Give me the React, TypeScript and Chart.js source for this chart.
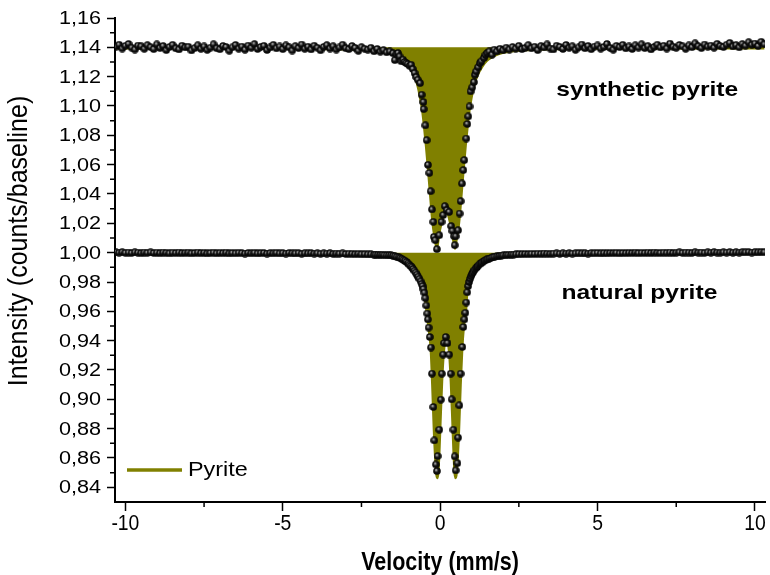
import React, { useEffect, useRef } from "react";
import { Chart, registerables } from "chart.js";

Chart.register(...registerables);

// ---------- axis ticks ----------
const X_TICKS = [-10, -5, 0, 5, 10];
const X_MINOR = [-7.5, -2.5, 2.5, 7.5];
const Y_TICKS = [0.84, 0.86, 0.88, 0.9, 0.92, 0.94, 0.96, 0.98, 1.0, 1.02, 1.04, 1.06, 1.08, 1.1, 1.12, 1.14, 1.16];
const Y_MINOR = [0.85, 0.87, 0.89, 0.91, 0.93, 0.95, 0.97, 0.99, 1.01, 1.03, 1.05, 1.07, 1.09, 1.11, 1.13, 1.15];

const X_TITLE = "Velocity (mm/s)";
const Y_TITLE = "Intensity (counts/baseline)";
const SERIES_NAME = "Pyrite";
const LABEL_SYNTHETIC = "synthetic pyrite";
const LABEL_NATURAL = "natural pyrite";

// ---------- measured spectra: [velocity mm/s, relative intensity] ----------
const SYNTHETIC: [number, number][] = [
  [-10.3, 1.1405], [-10.2, 1.1418], [-10.1, 1.1392], [-10, 1.141], [-9.9, 1.1423], [-9.8, 1.1398], [-9.7, 1.1385], [-9.6, 1.1412], [-9.5, 1.1407], [-9.4, 1.139],
  [-9.3, 1.1415], [-9.2, 1.1401], [-9.1, 1.1388], [-9, 1.142], [-8.9, 1.1396], [-8.8, 1.1409], [-8.7, 1.1381], [-8.6, 1.1402], [-8.5, 1.1417], [-8.4, 1.1393],
  [-8.3, 1.1386], [-8.2, 1.1411], [-8.1, 1.1399], [-8, 1.1404], [-7.9, 1.1379], [-7.8, 1.1395], [-7.7, 1.1414], [-7.6, 1.139], [-7.5, 1.1406], [-7.4, 1.1383],
  [-7.3, 1.1398], [-7.2, 1.1421], [-7.1, 1.1394], [-7, 1.1387], [-6.9, 1.1409], [-6.8, 1.1402], [-6.7, 1.1377], [-6.6, 1.14], [-6.5, 1.1416], [-6.4, 1.1391],
  [-6.3, 1.1405], [-6.2, 1.1384], [-6.1, 1.1412], [-6, 1.1397], [-5.9, 1.1422], [-5.8, 1.1389], [-5.7, 1.1403], [-5.6, 1.141], [-5.5, 1.1382], [-5.4, 1.1399],
  [-5.3, 1.1417], [-5.2, 1.1393], [-5.1, 1.1406], [-5, 1.1388], [-4.9, 1.1413], [-4.8, 1.14], [-4.7, 1.1378], [-4.6, 1.1408], [-4.5, 1.1395], [-4.4, 1.1419],
  [-4.3, 1.139], [-4.2, 1.1404], [-4.1, 1.1386], [-4, 1.1411], [-3.9, 1.1397], [-3.8, 1.138], [-3.7, 1.1403], [-3.6, 1.1415], [-3.5, 1.1392], [-3.4, 1.1407],
  [-3.3, 1.1385], [-3.2, 1.1399], [-3.1, 1.1418], [-3, 1.1394], [-2.9, 1.1388], [-2.8, 1.1409], [-2.7, 1.1396], [-2.6, 1.1376], [-2.5, 1.1401], [-2.4, 1.139],
  [-2.3, 1.1384], [-2.2, 1.1397], [-2.1, 1.1373], [-2, 1.1389], [-1.9, 1.137], [-1.8, 1.1381], [-1.7, 1.1366], [-1.6, 1.1372], [-1.5, 1.136],
  [-1.44, 1.1313], [-1.39, 1.1352], [-1.34, 1.1361], [-1.29, 1.1338], [-1.236, 1.1305], [-1.18, 1.1316], [-1.13, 1.13], [-1.079, 1.1293],
  [-1.03, 1.1286], [-0.97, 1.1274], [-0.921, 1.1281], [-0.87, 1.1252], [-0.814, 1.1225], [-0.76, 1.1198], [-0.711, 1.1179], [-0.638, 1.1156],
  [-0.585, 1.1077], [-0.531, 1.1027], [-0.522, 1.0979], [-0.469, 1.0868], [-0.428, 1.0767], [-0.387, 1.0599], [-0.343, 1.0544], [-0.302, 1.0419],
  [-0.261, 1.0295], [-0.217, 1.021], [-0.198, 1.0108], [-0.154, 1.0085], [-0.104, 1.0024], [-0.028, 1.0119], [0.044, 1.021], [0.097, 1.0256],
  [0.148, 1.0317], [0.211, 1.029], [0.286, 1.0278], [0.349, 1.0181], [0.39, 1.0149], [0.443, 1.0112], [0.462, 1.0051], [0.494, 1.0112],
  [0.569, 1.0153], [0.619, 1.0267], [0.651, 1.0351], [0.695, 1.0472], [0.736, 1.0563], [0.767, 1.0631], [0.83, 1.0778], [0.862, 1.0877],
  [0.893, 1.0929], [0.934, 1.0997], [0.965, 1.11], [1.019, 1.1127], [1.072, 1.1163], [1.104, 1.1213], [1.145, 1.1236], [1.208, 1.1264],
  [1.26, 1.1292], [1.311, 1.1305], [1.387, 1.1327], [1.44, 1.1348], [1.491, 1.1361], [1.56, 1.1372], [1.648, 1.135], [1.72, 1.1384],
  [1.8, 1.1372], [1.9, 1.139], [2, 1.138], [2.1, 1.1398], [2.2, 1.1385], [2.3, 1.1402], [2.4, 1.1391], [2.5, 1.141], [2.6, 1.1388], [2.7, 1.1396],
  [2.8, 1.1415], [2.9, 1.1393], [3, 1.1404], [3.1, 1.1381], [3.2, 1.1408], [3.3, 1.1399], [3.4, 1.142], [3.5, 1.1392], [3.6, 1.1386], [3.7, 1.1411],
  [3.8, 1.1403], [3.9, 1.1389], [4, 1.1416], [4.1, 1.1397], [4.2, 1.1407], [4.3, 1.1383], [4.4, 1.14], [4.5, 1.1419], [4.6, 1.1394], [4.7, 1.1409],
  [4.8, 1.1387], [4.9, 1.1405], [5, 1.1413], [5.1, 1.1391], [5.2, 1.1402], [5.3, 1.1423], [5.4, 1.1396], [5.5, 1.1384], [5.6, 1.141], [5.7, 1.1401],
  [5.8, 1.1417], [5.9, 1.1393], [6, 1.1406], [6.1, 1.1389], [6.2, 1.1414], [6.3, 1.1398], [6.4, 1.1421], [6.5, 1.1395], [6.6, 1.1408], [6.7, 1.1386],
  [6.8, 1.1403], [6.9, 1.1418], [7, 1.1399], [7.1, 1.1411], [7.2, 1.1392], [7.3, 1.1425], [7.4, 1.1404], [7.5, 1.1397], [7.6, 1.1416], [7.7, 1.1407],
  [7.8, 1.139], [7.9, 1.1413], [8, 1.1401], [8.1, 1.1427], [8.2, 1.1408], [8.3, 1.1395], [8.4, 1.1419], [8.5, 1.1405], [8.6, 1.1412], [8.7, 1.1398],
  [8.8, 1.1424], [8.9, 1.1409], [9, 1.1402], [9.1, 1.1418], [9.2, 1.143], [9.3, 1.1406], [9.4, 1.1415], [9.5, 1.14], [9.6, 1.1422], [9.7, 1.1411],
  [9.8, 1.1435], [9.9, 1.1417], [10, 1.1426], [10.1, 1.1409], [10.2, 1.1438], [10.3, 1.142],
];

const NATURAL: [number, number][] = [
  [-10.3, 1.0002], [-10.2, 1.0], [-10.1, 1.0003], [-10, 0.9999], [-9.9, 1.0001], [-9.8, 0.9998], [-9.7, 1.0002], [-9.6, 1.0], [-9.5, 0.9997], [-9.4, 1.0001],
  [-9.3, 0.9999], [-9.2, 1.0002], [-9.1, 0.9998], [-9, 1.0], [-8.9, 0.9997], [-8.8, 1.0001], [-8.7, 0.9999], [-8.6, 0.9996], [-8.5, 1.0], [-8.4, 0.9998],
  [-8.3, 1.0001], [-8.2, 0.9997], [-8.1, 0.9999], [-8, 1.0], [-7.9, 0.9996], [-7.8, 0.9998], [-7.7, 1.0001], [-7.6, 0.9997], [-7.5, 0.9999], [-7.4, 0.9995],
  [-7.3, 0.9998], [-7.2, 1.0], [-7.1, 0.9996], [-7, 0.9999], [-6.9, 0.9997], [-6.8, 1.0], [-6.7, 0.9995], [-6.6, 0.9998], [-6.5, 0.9996], [-6.4, 0.9999],
  [-6.3, 0.9997], [-6.2, 0.9994], [-6.1, 0.9998], [-6, 0.9996], [-5.9, 0.9999], [-5.8, 0.9995], [-5.7, 0.9997], [-5.6, 0.9998], [-5.5, 0.9994], [-5.4, 0.9997],
  [-5.3, 0.9996], [-5.2, 0.9999], [-5.1, 0.9995], [-5, 0.9997], [-4.9, 0.9994], [-4.8, 0.9998], [-4.7, 0.9996], [-4.6, 0.9995], [-4.5, 0.9997], [-4.4, 0.9993],
  [-4.3, 0.9996], [-4.2, 0.9995], [-4.1, 0.9997], [-4, 0.9994], [-3.9, 0.9996], [-3.8, 0.9993], [-3.7, 0.9995], [-3.6, 0.9994], [-3.5, 0.9996], [-3.4, 0.9992],
  [-3.3, 0.9994], [-3.2, 0.9993], [-3.1, 0.9995], [-3, 0.9991], [-2.9, 0.9993], [-2.8, 0.9992], [-2.7, 0.999], [-2.6, 0.9992], [-2.5, 0.9989], [-2.4, 0.999],
  [-2.3, 0.9988], [-2.2, 0.9989], [-2.1, 0.9987],
  [-2.05, 0.9987], [-1.98, 0.9986], [-1.91, 0.9985], [-1.84, 0.9985], [-1.77, 0.9984], [-1.7, 0.9983], [-1.63, 0.9983], [-1.56, 0.9982],
  [-1.5, 0.9979], [-1.44, 0.9976], [-1.38, 0.9972], [-1.32, 0.9968], [-1.27, 0.9963], [-1.22, 0.9958], [-1.17, 0.9951], [-1.12, 0.9945],
  [-1.07, 0.9937], [-1.02, 0.9927], [-0.98, 0.9918], [-0.94, 0.9909], [-0.9, 0.99], [-0.86, 0.9889], [-0.82, 0.9877], [-0.78, 0.9864],
  [-0.74, 0.985], [-0.7, 0.9836], [-0.66, 0.9822], [-0.62, 0.9804], [-0.59, 0.9787], [-0.56, 0.9772], [-0.53, 0.9752], [-0.5, 0.9727],
  [-0.47, 0.969], [-0.44, 0.964], [-0.41, 0.9585], [-0.39, 0.9545],
  [-0.365, 0.9489], [-0.33, 0.9425], [-0.292, 0.9353], [-0.261, 0.9175], [-0.217, 0.8948], [-0.186, 0.872], [-0.135, 0.8556], [-0.104, 0.8511],
  [-0.082, 0.8613], [-0.028, 0.8793], [0.022, 0.8998], [0.053, 0.9175], [0.097, 0.9305], [0.129, 0.9384], [0.179, 0.9425], [0.233, 0.9384],
  [0.286, 0.9305], [0.336, 0.9175], [0.368, 0.9], [0.421, 0.8793], [0.462, 0.8611], [0.494, 0.8516], [0.547, 0.8565], [0.569, 0.8739],
  [0.61, 0.8959], [0.651, 0.9175], [0.704, 0.9357], [0.736, 0.9493],
  [0.77, 0.9545], [0.8, 0.959], [0.83, 0.966], [0.86, 0.973], [0.89, 0.9772], [0.92, 0.98], [0.95, 0.9822], [0.98, 0.984],
  [1.01, 0.9855], [1.05, 0.9868], [1.09, 0.9882], [1.13, 0.9893], [1.17, 0.9902], [1.21, 0.9912], [1.25, 0.9921], [1.29, 0.9927],
  [1.34, 0.9934], [1.39, 0.9942], [1.44, 0.9948], [1.49, 0.9954], [1.55, 0.9959], [1.61, 0.9964], [1.67, 0.9968], [1.73, 0.9972],
  [1.8, 0.9975], [1.87, 0.9978], [1.94, 0.998], [2.01, 0.9982], [2.09, 0.9983], [2.17, 0.9985], [2.25, 0.9986], [2.33, 0.9987],
  [2.41, 0.9989], [2.5, 0.999],
  [2.6, 0.999], [2.7, 0.9991], [2.8, 0.999], [2.9, 0.9992], [3, 0.9991], [3.1, 0.9993], [3.2, 0.9992], [3.3, 0.9994], [3.4, 0.9993], [3.5, 0.9992],
  [3.6, 0.9994], [3.7, 0.9995], [3.8, 0.9993], [3.9, 0.9995], [4, 0.9994], [4.1, 0.9996], [4.2, 0.9994], [4.3, 0.9995], [4.4, 0.9997], [4.5, 0.9995],
  [4.6, 0.9996], [4.7, 0.9994], [4.8, 0.9997], [4.9, 0.9996], [5, 0.9998], [5.1, 0.9995], [5.2, 0.9997], [5.3, 0.9996], [5.4, 0.9998], [5.5, 0.9997],
  [5.6, 0.9999], [5.7, 0.9996], [5.8, 0.9998], [5.9, 0.9997], [6, 0.9999], [6.1, 0.9998], [6.2, 1.0], [6.3, 0.9997], [6.4, 0.9999], [6.5, 0.9998],
  [6.6, 1.0], [6.7, 0.9998], [6.8, 1.0001], [6.9, 0.9999], [7, 0.9998], [7.1, 1.0], [7.2, 0.9999], [7.3, 1.0001], [7.4, 0.9998], [7.5, 1.0],
  [7.6, 1.0002], [7.7, 0.9999], [7.8, 1.0001], [7.9, 1.0], [8, 0.9999], [8.1, 1.0002], [8.2, 1.0], [8.3, 1.0001], [8.4, 0.9999], [8.5, 1.0002],
  [8.6, 1.0], [8.7, 1.0003], [8.8, 1.0001], [8.9, 1.0], [9, 1.0002], [9.1, 1.0001], [9.2, 1.0003], [9.3, 1.0], [9.4, 1.0002], [9.5, 1.0001],
  [9.6, 1.0003], [9.7, 1.0002], [9.8, 1.0004], [9.9, 1.0001], [10, 1.0003], [10.1, 1.0002], [10.2, 1.0004], [10.3, 1.0003],
];

// ---------- fitted "Pyrite" doublets ----------
const SYNTHETIC_FIT: [number, number][] = [
  [-10.3, 1.1396], [-6, 1.1395], [-4, 1.1393], [-2.8, 1.1388], [-2.1, 1.138], [-1.6, 1.1365], [-1.32, 1.134], [-1.12, 1.131],
  [-0.97, 1.127], [-0.82, 1.121], [-0.72, 1.115], [-0.62, 1.105], [-0.56, 1.097], [-0.5, 1.086], [-0.44, 1.073], [-0.37, 1.056],
  [-0.31, 1.04], [-0.26, 1.027], [-0.2, 1.015], [-0.15, 1.009], [-0.11, 1.003], [-0.04, 1.013], [0.03, 1.02], [0.1, 1.026],
  [0.18, 1.029], [0.26, 1.026], [0.33, 1.02], [0.4, 1.013], [0.47, 1.003], [0.51, 1.009], [0.56, 1.015], [0.62, 1.027],
  [0.67, 1.04], [0.73, 1.056], [0.8, 1.073], [0.86, 1.086], [0.92, 1.097], [0.98, 1.105], [1.08, 1.115], [1.18, 1.121],
  [1.33, 1.127], [1.48, 1.131], [1.68, 1.134], [1.98, 1.1365], [2.48, 1.138], [3.18, 1.1388], [5.18, 1.1394], [10.3, 1.1396],
];

const NATURAL_FIT: [number, number][] = [
  [-10.3, 0.9997], [-7, 0.9996], [-5, 0.9994], [-4, 0.9992], [-3, 0.999], [-2.5, 0.9988], [-2, 0.9986], [-1.55, 0.9982],
  [-1.24, 0.996], [-1.03, 0.9927], [-0.87, 0.9892], [-0.76, 0.9858], [-0.66, 0.9824], [-0.6, 0.9795], [-0.55, 0.9765], [-0.5, 0.9725],
  [-0.46, 0.9665], [-0.42, 0.9595], [-0.36, 0.949], [-0.29, 0.935], [-0.24, 0.91], [-0.19, 0.88], [-0.14, 0.858], [-0.09, 0.8465],
  [-0.04, 0.862], [0, 0.885], [0.05, 0.912], [0.1, 0.931], [0.15, 0.94], [0.2, 0.9425], [0.25, 0.94], [0.3, 0.931],
  [0.35, 0.912], [0.4, 0.885], [0.44, 0.862], [0.49, 0.8465], [0.54, 0.858], [0.59, 0.88], [0.64, 0.91], [0.69, 0.934],
  [0.74, 0.949], [0.81, 0.96], [0.84, 0.97], [0.89, 0.9775], [0.95, 0.9822], [1.02, 0.9858], [1.12, 0.9892], [1.28, 0.9926],
  [1.49, 0.9955], [1.8, 0.9975], [2.2, 0.9985], [2.6, 0.999], [3.5, 0.9993], [5, 0.9995], [7, 0.9996], [10.3, 0.9997],
];

const SYNTHETIC_BASE = 1.14;
const NATURAL_BASE = 1.0;

const OLIVE = "#808000";
const SANS = "'Liberation Sans', Arial, Helvetica, sans-serif";

function makeSphere(): HTMLCanvasElement {
  const c = document.createElement("canvas");
  c.width = 8;
  c.height = 8;
  const g = c.getContext("2d")!;
  const grad = g.createRadialGradient(3.0, 2.8, 0.1, 4, 4, 4.1);
  grad.addColorStop(0, "#e0e0e0");
  grad.addColorStop(0.25, "#5a5a5a");
  grad.addColorStop(0.5, "#121212");
  grad.addColorStop(1, "#000000");
  g.fillStyle = grad;
  g.beginPath();
  g.arc(4, 4, 3.8, 0, Math.PI * 2);
  g.fill();
  return c;
}

const fmtY = (v: number) => v.toFixed(2).replace(".", ",");

// draw text with a horizontal stretch factor
function stretchedText(ctx: CanvasRenderingContext2D, text: string, x: number, y: number, sx: number) {
  ctx.save();
  ctx.translate(x, y);
  ctx.scale(sx, 1);
  ctx.fillText(text, 0, 0);
  ctx.restore();
}

export default function App() {
  const ref = useRef<HTMLCanvasElement>(null);

  useEffect(() => {
    const canvas = ref.current;
    if (!canvas) return;
    const sphere = makeSphere();

    const extras = {
      id: "extras",
      afterDraw(chart: any) {
        const { ctx, chartArea, scales } = chart;
        const xs = scales.x;
        const ys = scales.y;
        ctx.save();
        // minor ticks
        ctx.strokeStyle = "#000";
        ctx.lineWidth = 1.5;
        ctx.beginPath();
        Y_MINOR.forEach((v) => {
          const y = ys.getPixelForValue(v);
          ctx.moveTo(chartArea.left - 5, y);
          ctx.lineTo(chartArea.left, y);
        });
        X_MINOR.forEach((v) => {
          const x = xs.getPixelForValue(v);
          ctx.moveTo(x, chartArea.bottom);
          ctx.lineTo(x, chartArea.bottom + 5);
        });
        ctx.stroke();

        ctx.fillStyle = "#000";

        // y tick labels
        ctx.font = `18px ${SANS}`;
        ctx.textAlign = "right";
        ctx.textBaseline = "middle";
        Y_TICKS.forEach((v) => {
          stretchedText(ctx, fmtY(v), chartArea.left - 14, ys.getPixelForValue(v) + 1, 1.2);
        });

        // x tick labels (narrow, tall)
        ctx.font = `22px ${SANS}`;
        ctx.textAlign = "center";
        ctx.textBaseline = "alphabetic";
        X_TICKS.forEach((v) => {
          stretchedText(ctx, String(v), xs.getPixelForValue(v), chartArea.bottom + 28, 0.88);
        });

        // x title
        ctx.font = `bold 25px ${SANS}`;
        stretchedText(ctx, X_TITLE, (chartArea.left + chartArea.right) / 2, chartArea.bottom + 68, 0.86);

        // y title
        ctx.font = `25px ${SANS}`;
        ctx.textBaseline = "middle";
        ctx.save();
        ctx.translate(19, 241);
        ctx.rotate(-Math.PI / 2);
        ctx.scale(1, 1.1);
        ctx.fillText(Y_TITLE, 0, 0);
        ctx.restore();

        // spectrum labels
        ctx.font = `bold 20.5px ${SANS}`;
        ctx.textAlign = "center";
        ctx.textBaseline = "middle";
        stretchedText(ctx, LABEL_SYNTHETIC, xs.getPixelForValue(6.58), ys.getPixelForValue(1.111), 1.2);
        stretchedText(ctx, LABEL_NATURAL, xs.getPixelForValue(6.33), ys.getPixelForValue(0.9723), 1.2);

        // legend
        const ly = chartArea.bottom - 32;
        ctx.strokeStyle = OLIVE;
        ctx.lineWidth = 3.5;
        ctx.beginPath();
        ctx.moveTo(chartArea.left + 12, ly);
        ctx.lineTo(chartArea.left + 67, ly);
        ctx.stroke();
        ctx.font = `19.5px ${SANS}`;
        ctx.textAlign = "left";
        ctx.fillStyle = "#000";
        stretchedText(ctx, SERIES_NAME, chartArea.left + 73, ly + 1, 1.2);
        ctx.restore();
      },
    };

    const pointsDs = (data: [number, number][], label: string) => ({
      label,
      data: data.map(([x, y]) => ({ x, y })),
      showLine: false,
      pointStyle: sphere,
      pointRadius: 4,
      pointHoverRadius: 4,
      order: 0,
    });
    const fitDs = (data: [number, number][], base: number, label: string) => ({
      label,
      data: data.map(([x, y]) => ({ x, y })),
      showLine: true,
      borderColor: OLIVE,
      backgroundColor: OLIVE,
      borderWidth: 3,
      pointRadius: 0,
      cubicInterpolationMode: "monotone",
      fill: { value: base },
      order: 1,
    });

    const chart = new Chart(canvas, {
      type: "line",
      data: {
        datasets: [
          pointsDs(SYNTHETIC, "synthetic"),
          pointsDs(NATURAL, "natural"),
          fitDs(SYNTHETIC_FIT, SYNTHETIC_BASE, SERIES_NAME),
          fitDs(NATURAL_FIT, NATURAL_BASE, SERIES_NAME + " (natural)"),
        ] as any,
      },
      options: {
        responsive: false,
        animation: false,
        devicePixelRatio: 1,
        layout: { padding: { top: 18, right: 0, left: 0, bottom: 0 } },
        plugins: { legend: { display: false }, tooltip: { enabled: false } },
        events: [],
        scales: {
          x: {
            type: "linear",
            min: -10.33,
            max: 10.32,
            afterBuildTicks: (s: any) => {
              s.ticks = X_TICKS.map((v) => ({ value: v }));
            },
            afterFit: (s: any) => {
              s.height = 73;
              s.paddingLeft = 0;
              s.paddingRight = 0;
            },
            grid: { drawOnChartArea: false, drawTicks: true, tickLength: 9, tickWidth: 1.5, tickColor: "#000" },
            border: { display: true, color: "#000", width: 2 },
            ticks: { display: false },
            title: { display: false },
          },
          y: {
            type: "linear",
            min: 0.83,
            max: 1.16,
            afterBuildTicks: (s: any) => {
              s.ticks = Y_TICKS.map((v) => ({ value: v }));
            },
            afterFit: (s: any) => {
              s.width = 115;
              s.paddingTop = 0;
              s.paddingBottom = 0;
            },
            grid: { drawOnChartArea: false, drawTicks: true, tickLength: 8, tickWidth: 1.5, tickColor: "#000" },
            border: { display: true, color: "#000", width: 2 },
            ticks: { display: false },
          },
        },
      } as any,
      plugins: [extras],
    });

    return () => chart.destroy();
  }, []);

  return (
    <div style={{ position: "fixed", left: 0, top: 0, width: 770, height: 575, background: "#fff" }}>
      <canvas ref={ref} width={770} height={575} style={{ display: "block" }} />
    </div>
  );
}
